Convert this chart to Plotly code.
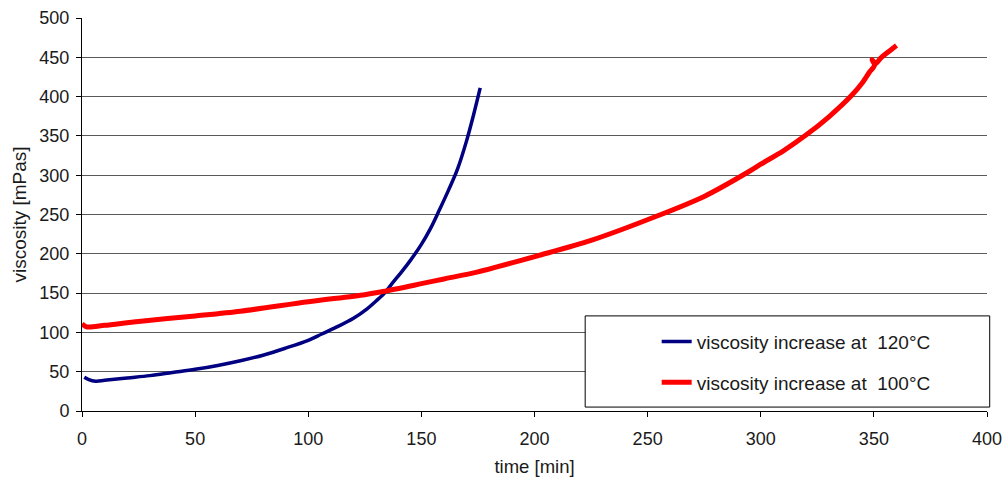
import plotly.graph_objects as go

# Viscosity increase over time at two curing temperatures
t_120 = [1, 3, 6, 10, 20, 30, 40, 50, 60, 70, 80, 90, 100, 106, 112, 120, 126, 130, 134, 137,
         141, 145, 150, 154, 158, 162, 166, 170, 173, 176]
v_120 = [43, 40, 38, 39, 42, 45, 49, 53, 58, 64, 71, 80, 90, 98, 106, 118, 130, 140, 151, 162,
         176, 191, 212, 232, 256, 281, 308, 344, 376, 411]

t_100 = [0, 2, 10, 25, 50, 70, 100, 125, 133, 150, 160, 175, 202, 225, 255, 275, 295, 300,
         310, 320, 330, 340, 345, 348, 350.3, 349.2, 350.8, 353, 356, 360]
v_100 = [111, 107, 109, 114, 121, 127, 139, 148, 152, 162, 168, 177, 198, 217, 249, 273, 305, 314,
         331, 351, 374, 401, 418, 431, 440, 447, 442, 449, 456, 465]

legend_names = ["viscosity increase at\u00a0 120°C", "viscosity increase at\u00a0 100°C"]

x_ticks = [0, 50, 100, 150, 200, 250, 300, 350, 400]
y_ticks = [0, 50, 100, 150, 200, 250, 300, 350, 400, 450, 500]

font_family = "Liberation Sans, Arial, sans-serif"
text_color = "#1a1a1a"

fig = go.Figure()
fig.add_trace(go.Scatter(x=t_120, y=v_120, mode="lines", name=legend_names[0],
                         line=dict(color="#000080", width=3.5, shape="spline", smoothing=1.0),
                         legendgroup="a"))
fig.add_trace(go.Scatter(x=t_100, y=v_100, mode="lines", name=legend_names[1],
                         line=dict(color="#ff0000", width=5, shape="spline", smoothing=0.8),
                         legendgroup="b"))

# framed legend box
fig.add_shape(type="rect", xref="paper", yref="paper",
              x0=0.556, x1=1.003, y0=0.01, y1=0.242,
              line=dict(color="#000000", width=1), fillcolor="white", layer="above")

fig.update_layout(
    width=1005, height=483,
    margin=dict(l=82, r=18, t=18, b=72, autoexpand=False),
    paper_bgcolor="white", plot_bgcolor="white",
    font=dict(family=font_family, color=text_color, size=18),
    showlegend=True,
    legend=dict(x=0.635, y=0.225, xanchor="left", yanchor="top",
                bgcolor="rgba(0,0,0,0)", borderwidth=0,
                traceorder="grouped", tracegroupgap=13,
                font=dict(size=19, family=font_family, color=text_color)),
    xaxis=dict(range=[0, 400], tickvals=x_ticks, showgrid=False, zeroline=False,
               automargin=False,
               showline=True, linecolor="black", linewidth=1,
               ticks="outside", ticklen=5, tickcolor="black",
               tickfont=dict(size=18), ticklabelstandoff=6,
               title=dict(text="time [min]", font=dict(size=18.5), standoff=12)),
    yaxis=dict(range=[0, 500], tickvals=y_ticks, showgrid=True, gridcolor="#5a5a5a",
               gridwidth=1.2, zeroline=False, automargin=False,
               showline=True, linecolor="black", linewidth=1,
               ticks="outside", ticklen=5, tickcolor="black",
               tickfont=dict(size=18), ticklabelstandoff=3,
               title=dict(text="viscosity [mPas]", font=dict(size=19), standoff=7)),
)

fig.write_html("out.html")
